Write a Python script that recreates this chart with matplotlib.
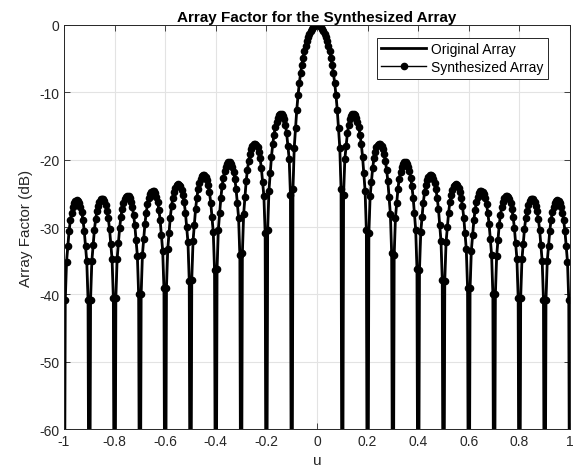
import matplotlib
matplotlib.use("Agg")
import matplotlib.pyplot as plt
import numpy as np

plt.rcParams['font.family'] = ['Liberation Sans', 'DejaVu Sans']
plt.rcParams['font.size'] = 10
plt.rcParams['axes.unicode_minus'] = False

# Array factor (dB) for u = 0, 0.005, ..., 1 (pattern is symmetric in u)
# nulls go off the bottom of the axes, stored as -100
af_half = [
    0.00, -0.03, -0.14, -0.32, -0.58, -0.91, -1.32, -1.82, -2.42, -3.11,
    -3.91, -4.85, -5.93, -7.19, -8.67, -10.43, -12.60, -15.37, -18.2, -24.4,
    -100, -25.2, -19.9, -17.96, -16.09, -14.83, -14.00, -13.48, -13.24, -13.20,
    -13.38, -13.77, -14.37, -15.19, -16.29, -17.70, -19.55, -22.02, -24.6, -30.5,
    -100, -30.9, -25.4, -23.29, -21.24, -19.82, -18.83, -18.17, -17.78, -17.62,
    -17.68, -17.95, -18.44, -19.16, -20.15, -21.47, -23.22, -25.61, -28.1, -33.9,
    -100, -34.2, -28.6, -26.41, -24.30, -22.81, -21.76, -21.04, -20.59, -20.38,
    -20.38, -20.60, -21.04, -21.71, -22.65, -23.93, -25.64, -27.98, -30.4, -36.2,
    -100, -36.4, -30.8, -28.54, -26.39, -24.87, -23.78, -23.03, -22.55, -22.30,
    -22.27, -22.46, -22.87, -23.51, -24.42, -25.67, -27.35, -29.66, -32.1, -37.8,
    -100, -38.0, -32.3, -30.07, -27.89, -26.35, -25.24, -24.46, -23.96, -23.69,
    -23.64, -23.81, -24.20, -24.82, -25.71, -26.93, -28.59, -30.89, -33.3, -39.0,
    -100, -39.1, -33.5, -31.19, -28.99, -27.43, -26.30, -25.51, -24.99, -24.71,
    -24.64, -24.79, -25.16, -25.76, -26.64, -27.85, -29.49, -31.77, -34.1, -39.9,
    -100, -40.0, -34.3, -31.98, -29.77, -28.19, -27.05, -26.24, -25.71, -25.41,
    -25.33, -25.47, -25.83, -26.42, -27.28, -28.48, -30.11, -32.38, -34.7, -40.5,
    -100, -40.5, -34.8, -32.51, -30.29, -28.70, -27.55, -26.73, -26.18, -25.87,
    -25.78, -25.91, -26.25, -26.83, -27.68, -28.86, -30.48, -32.74, -35.1, -40.8,
    -100, -40.8, -35.1, -32.80, -30.57, -28.97, -27.81, -26.98, -26.42, -26.10,
    -25.99, -26.11, -26.44, -27.01, -27.85, -29.03, -30.64, -32.88, -35.2, -40.9,
    -100,
]

# full pattern from u = -1 to 1
af_orig = af_half[::-1] + af_half[1:]
af_synth = list(af_orig)
u = np.linspace(-1, 1, len(af_orig))

xtick_vals = [-1, -0.8, -0.6, -0.4, -0.2, 0, 0.2, 0.4, 0.6, 0.8, 1]
xtick_labels = ['-1', '-0.8', '-0.6', '-0.4', '-0.2', '0', '0.2', '0.4', '0.6', '0.8', '1']
ytick_vals = [-60, -50, -40, -30, -20, -10, 0]

fig = plt.figure(figsize=(5.85, 4.77), dpi=100)
ax = fig.add_axes([0.1094, 0.0985, 0.865, 0.847])

ax.plot(u, af_orig, color='black', linewidth=2.0, label='Original Array')
ax.plot(u, af_synth, color='black', linewidth=1.0, marker='o', markersize=4.5,
        markerfacecolor='black', label='Synthesized Array')

ax.set_xlim(-1, 1)
ax.set_ylim(-60, 0)
ax.set_xticks(xtick_vals)
ax.set_xticklabels(xtick_labels)
ax.set_yticks(ytick_vals)
ax.grid(True, color='#e3e3e3', linewidth=0.8)
ax.set_axisbelow(True)
ax.tick_params(direction='in', top=True, right=True, length=4, width=0.6,
               labelsize=10, colors='#262626')
for sp in ax.spines.values():
    sp.set_linewidth(0.7)
    sp.set_color('#262626')

ax.set_xlabel('u', fontsize=11, color='#262626')
ax.set_ylabel('Array Factor (dB)', fontsize=11, color='#262626')
ax.set_title('Array Factor for the Synthesized Array', fontsize=11, fontweight='bold', pad=3)

leg = ax.legend(loc='upper right', bbox_to_anchor=(0.97, 0.985), fancybox=False,
                edgecolor='#262626', framealpha=1, fontsize=10, handlelength=3.2,
                borderpad=0.3, labelspacing=0.3, handletextpad=0.4)
leg.get_frame().set_linewidth(0.7)

fig.savefig('out.png', dpi=100)
